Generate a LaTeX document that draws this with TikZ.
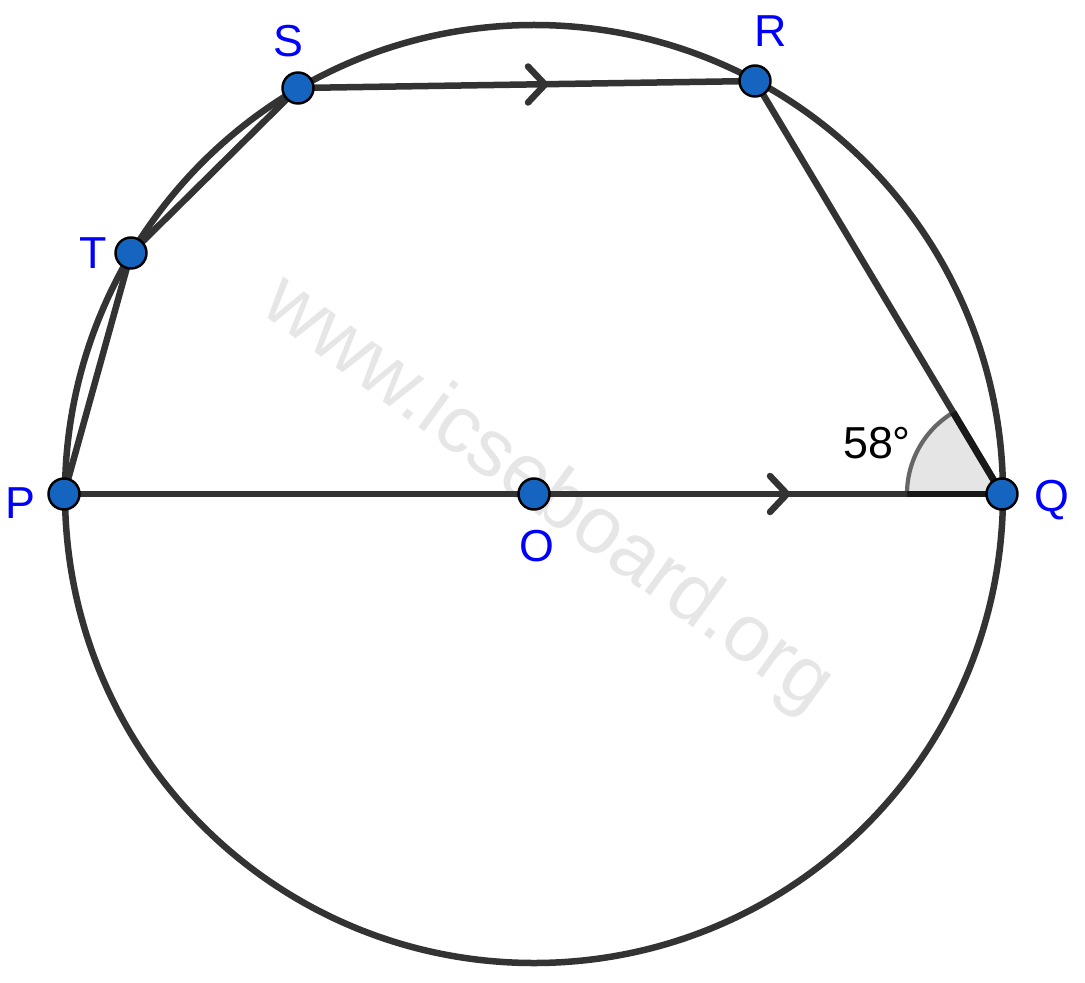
\documentclass[tikz,border=0pt]{standalone}
\usetikzlibrary{calc}
\usepackage{fontspec}
\setmainfont{Liberation Sans}
\definecolor{lin}{HTML}{333333}
\definecolor{dotblue}{HTML}{1565C0}
\definecolor{wm}{HTML}{E6E6E6}
\definecolor{lab}{HTML}{0000FF}
\definecolor{angarc}{HTML}{666666}
\begin{document}
\begin{tikzpicture}[x=0.02cm,y=-0.02cm,
  seg/.style={draw=lin,line width=3.7pt,line cap=round},
  chev/.style={draw=lin,line width=3.7pt,line cap=round,line join=round},
  ptdot/.style={circle,fill=dotblue,draw=black,line width=1.4pt,minimum size=0.62cm,inner sep=0pt},
  lbl/.style={text=lab,font=\fontsize{25.5}{30}\selectfont,inner sep=0pt}]
\useasboundingbox (0,0) rectangle (1085,983);
% watermark
\node[text=wm,rotate=-36,font=\fontsize{46}{50}\selectfont,inner sep=0pt] (wmk) at (547,495) {www.icseboard.org};
% points
\coordinate (O) at (534,494);
\coordinate (P) at (64,494);
\coordinate (Q) at (1002,494);
\coordinate (R) at (755,81);
\coordinate (S) at (298,88);
\coordinate (T) at (131,253);
% angle mark
\fill[gray!20] (Q) -- ++(-95,0) arc[start angle=180,end angle=239.1,radius=95] -- cycle;
\draw[draw=angarc,line width=2.4pt] (Q) ++(-95,0) arc[start angle=180,end angle=239.1,radius=95];
% circle
\draw[draw=lin,line width=3.7pt] (O) circle[radius=469];
% segments
\draw[seg] (P) -- (Q);
\draw[seg] (P) -- (T);
\draw[seg] (T) -- (S);
\draw[seg] (S) -- (R);
\draw[seg] (R) -- (Q);
\draw[draw=black!90,line width=3.9pt] (Q) -- ++(-95,0);
\draw[draw=black!90,line width=3.9pt] (Q) -- ($(Q)!95/480.9!(R)$);
% chevrons
\coordinate (c1) at (545,84.5);
\coordinate (c2) at (787,494);
\draw[chev] ($(c1)+(-17,-18)$) -- (c1) -- ($(c1)+(-17,18)$);
\draw[chev] ($(c2)+(-17,-18)$) -- (c2) -- ($(c2)+(-17,18)$);
% dots
\foreach \p in {O,P,Q,R,S,T} \node[ptdot] (d\p) at (\p) {};
% labels
\node[lbl] (lS) at (288,41) {S};
\node[lbl] (lR) at (771,31) {R};
\node[lbl] (lT) at (93,253) {T};
\node[lbl] (lP) at (20,503) {P};
\node[lbl] (lQ) at (1052,500) {Q};
\node[lbl] (lO) at (537,546) {O};
\node[lbl,text=black] (ang) at (877,443) {58°};
\end{tikzpicture}
\end{document}
